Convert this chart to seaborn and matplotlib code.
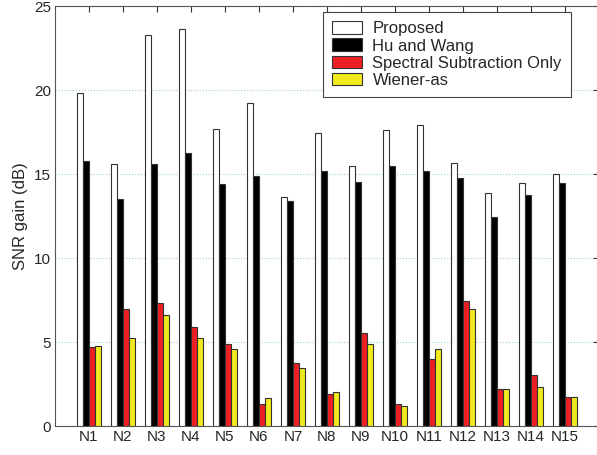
import numpy as np
import pandas as pd
import matplotlib
matplotlib.use('Agg')
import matplotlib.pyplot as plt
import seaborn as sns

conditions = ['N%d' % i for i in range(1, 16)]
methods = ['Proposed', 'Hu and Wang', 'Spectral Subtraction Only', 'Wiener-as']
proposed = [19.84, 15.57, 23.27, 23.63, 17.7, 19.2, 13.65, 17.44, 15.5, 17.6, 17.92, 15.65, 13.85, 14.44, 14.98]
hu_wang = [15.8, 13.5, 15.57, 16.23, 14.38, 14.9, 13.4, 15.16, 14.52, 15.5, 15.18, 14.78, 12.44, 13.77, 14.46]
spectral = [4.7, 6.96, 7.3, 5.91, 4.88, 1.29, 3.77, 1.9, 5.52, 1.29, 3.99, 7.42, 2.22, 3.02, 1.73]
wiener = [4.74, 5.24, 6.6, 5.24, 4.56, 1.67, 3.43, 2.04, 4.88, 1.21, 4.58, 6.98, 2.22, 2.32, 1.73]
colors = ['white', 'black', '#ec2024', '#f2ea1c']

df = pd.DataFrame({
    'cond': conditions * 4,
    'gain': proposed + hu_wang + spectral + wiener,
    'method': [m for m in methods for _ in conditions],
})

sns.set_style('white')
plt.rcParams['font.family'] = ['Liberation Sans', 'DejaVu Sans']

fig = plt.figure(figsize=(5.97, 4.55), dpi=100)
# axes box in pixels: left 55, bottom 426, 34 px per group
ax = fig.add_axes([55 / 597, 1 - 426 / 455, 544 / 597, 420 / 455])

sns.barplot(data=df, x='cond', y='gain', hue='method', palette=colors,
            saturation=1, width=0.7, gap=0, edgecolor='#333333', linewidth=0.8,
            ax=ax, zorder=3)

ax.set_xlim(-1, 15)
ax.set_ylim(0, 25)
ax.set_yticks([0, 5, 10, 15, 20, 25])
ax.set_xlabel('')
ax.set_ylabel('SNR gain (dB)', fontsize=12, labelpad=4)
ax.tick_params(axis='both', direction='in', top=True, right=True, labelsize=11,
               length=4, width=0.8, color='#333333', pad=3)
ax.yaxis.grid(True, linestyle=':', color='#9fcfe0', linewidth=0.8, zorder=0)
ax.set_axisbelow(True)
for s in ax.spines.values():
    s.set_color('#555555')
    s.set_linewidth(0.8)

leg = ax.legend(loc='upper right', bbox_to_anchor=(0.9485, 0.9857), borderaxespad=0,
                fontsize=12, frameon=True, fancybox=False, edgecolor='#444444',
                framealpha=1, handlelength=1.8, handleheight=0.8, handletextpad=0.6,
                labelspacing=0.12, borderpad=0.55)
leg.get_frame().set_linewidth(0.8)

fig.savefig('out.png', dpi=100)
